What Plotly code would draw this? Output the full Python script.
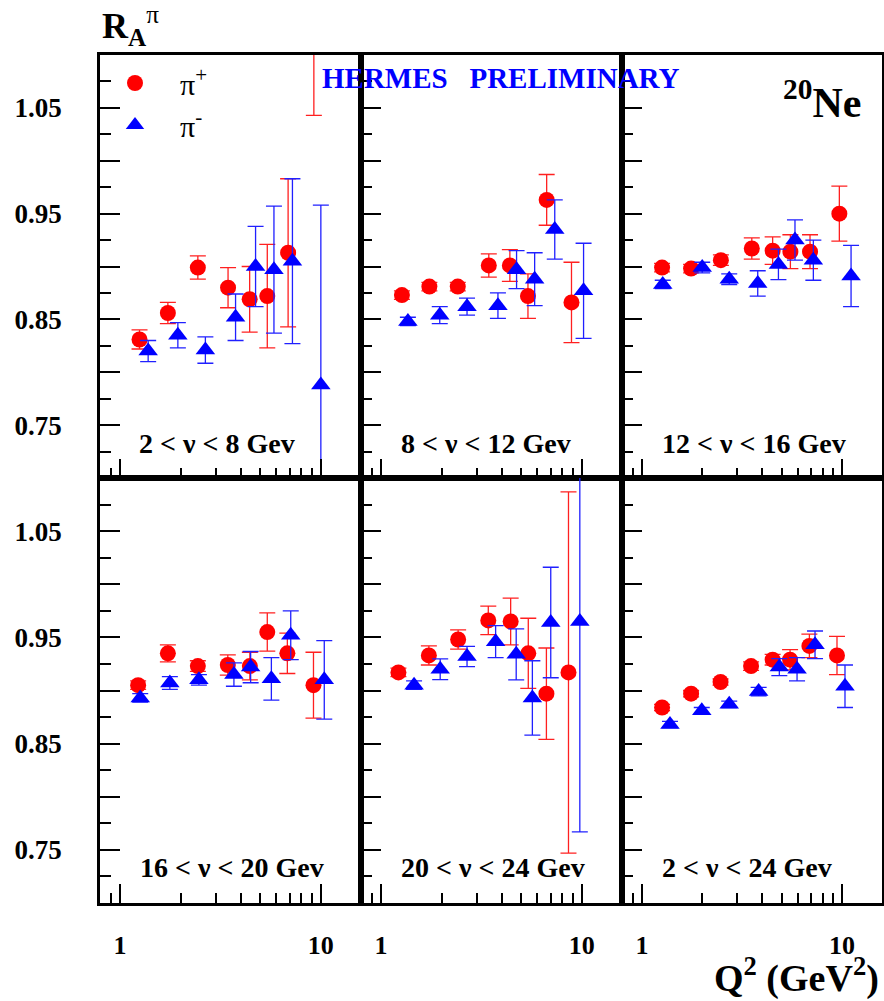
import plotly.graph_objects as go

# ---------------- data (one sub-list per panel) ----------------
PANEL_LABELS = ["2 < ν < 8 Gev", "8 < ν < 12 Gev", "12 < ν < 16 Gev",
                "16 < ν < 20 Gev", "20 < ν < 24 Gev", "2 < ν < 24 Gev"]

PIP_Q2 = [
    [1.25, 1.73, 2.44, 3.45, 4.42, 5.41, 6.87, 9.23],
    [1.27, 1.74, 2.41, 3.44, 4.38, 5.39, 6.68, 8.88],
    [1.26, 1.76, 2.48, 3.54, 4.50, 5.52, 6.92, 9.70],
    [1.23, 1.73, 2.44, 3.44, 4.43, 5.41, 6.81, 9.19],
    [1.22, 1.73, 2.42, 3.42, 4.42, 5.41, 6.66, 8.58],
    [1.26, 1.76, 2.47, 3.51, 4.50, 5.50, 6.87, 9.44],
]
PIP_R = [
    [0.831, 0.856, 0.899, 0.880, 0.869, 0.872, 0.913, 1.150],
    [0.873, 0.881, 0.881, 0.901, 0.901, 0.872, 0.963, 0.866],
    [0.899, 0.898, 0.906, 0.917, 0.915, 0.914, 0.914, 0.950],
    [0.905, 0.935, 0.923, 0.924, 0.923, 0.955, 0.935, 0.905],
    [0.917, 0.933, 0.948, 0.966, 0.965, 0.935, 0.897, 0.917],
    [0.884, 0.897, 0.908, 0.923, 0.929, 0.929, 0.942, 0.933],
]
PIP_ERR = [
    [0.009, 0.010, 0.011, 0.019, 0.031, 0.049, 0.070, 0.107],
    [0.004, 0.004, 0.004, 0.011, 0.015, 0.021, 0.024, 0.038],
    [0.004, 0.004, 0.005, 0.010, 0.013, 0.016, 0.016, 0.026],
    [0.004, 0.008, 0.005, 0.0095, 0.013, 0.018, 0.019, 0.031],
    [0.004, 0.009, 0.009, 0.0135, 0.022, 0.033, 0.043, 0.170],
    [0.003, 0.003, 0.003, 0.004, 0.005, 0.0095, 0.011, 0.018],
]

PIM_Q2 = [
    [1.38, 1.94, 2.66, 3.76, 4.73, 5.84, 7.22, 10.0],
    [1.36, 1.96, 2.68, 3.82, 4.73, 5.82, 7.33, 10.2],
    [1.27, 2.00, 2.73, 3.79, 4.81, 5.82, 7.19, 11.1],
    [1.26, 1.77, 2.47, 3.69, 4.47, 5.67, 7.08, 10.4],
    [1.46, 1.97, 2.68, 3.72, 4.71, 5.67, 7.00, 9.77],
    [1.38, 1.99, 2.73, 3.83, 4.86, 5.96, 7.33, 10.35],
]
PIM_R = [
    [0.820, 0.835, 0.821, 0.852, 0.900, 0.897, 0.905, 0.788],
    [0.848, 0.854, 0.862, 0.863, 0.897, 0.888, 0.935, 0.877],
    [0.883, 0.899, 0.888, 0.884, 0.902, 0.925, 0.906, 0.891],
    [0.893, 0.907, 0.910, 0.915, 0.922, 0.911, 0.952, 0.910],
    [0.905, 0.920, 0.932, 0.946, 0.934, 0.893, 0.964, 0.965],
    [0.868, 0.881, 0.887, 0.899, 0.922, 0.920, 0.943, 0.904],
]
PIM_ERR = [
    [0.010, 0.012, 0.0125, 0.022, 0.038, 0.060, 0.078, 0.170],
    [0.004, 0.008, 0.008, 0.012, 0.018, 0.025, 0.028, 0.045],
    [0.004, 0.005, 0.005, 0.012, 0.0145, 0.019, 0.019, 0.029],
    [0.004, 0.006, 0.005, 0.011, 0.0147, 0.020, 0.023, 0.037],
    [0.004, 0.0097, 0.0095, 0.015, 0.024, 0.035, 0.052, 0.198],
    [0.003, 0.003, 0.003, 0.004, 0.008, 0.011, 0.013, 0.020],
]

Y_MAJOR = [0.75, 0.80, 0.85, 0.90, 0.95, 1.00, 1.05]
Y_MAJOR_TEXT = ["0.75", " ", "0.85", " ", "0.95", " ", "1.05"]
Y_MINOR = [0.725, 0.775, 0.825, 0.875, 0.925, 0.975, 1.025, 1.075]
X_MAJOR = [1, 10]
X_MAJOR_TEXT = ["1", "10"]
X_MINOR = [0.9, 2, 3, 4, 5, 6, 7, 8, 9]

# ---------------- layout geometry ----------------
W, H = 884, 1001
FONT = "Liberation Serif"
COLS = [(100, 361), (361, 622), (622, 882)]
ROWS = [(55, 478), (478, 903)]

fig = go.Figure()
layout = dict(
    width=W, height=H, margin=dict(l=0, r=0, t=0, b=0),
    paper_bgcolor="white", plot_bgcolor="white",
    showlegend=True,
    legend=dict(x=90 / W, y=1 - 57 / H, xanchor="left", yanchor="top",
                bgcolor="rgba(0,0,0,0)", borderwidth=0, itemwidth=80,
                font=dict(family=FONT, size=30, color="black"),
                tracegroupgap=0),
)

for i in range(6):
    r, c = divmod(i, 3)
    sfx = "" if i == 0 else str(i + 1)
    xa, ya = "x" + sfx, "y" + sfx
    x0, x1 = COLS[c]
    top, bot = ROWS[r]
    layout["xaxis" + sfx] = dict(
        domain=[x0 / W, x1 / W], anchor=ya, type="log", range=[-0.1, 1.2],
        showline=True, linecolor="black", linewidth=2.5, mirror=True,
        showgrid=False, zeroline=False,
        ticks="inside", ticklen=19, tickwidth=2, tickcolor="black",
        tickmode="array", tickvals=X_MAJOR, ticktext=X_MAJOR_TEXT,
        showticklabels=(r == 1), ticklabelstandoff=17,
        tickfont=dict(family=FONT, size=26, color="black", weight="bold"),
        minor=dict(tickvals=X_MINOR, ticks="inside", ticklen=10,
                   tickwidth=2, tickcolor="black", showgrid=False),
    )
    layout["yaxis" + sfx] = dict(
        domain=[1 - bot / H, 1 - top / H], anchor=xa, range=[0.70, 1.10],
        showline=True, linecolor="black", linewidth=2.5, mirror=True,
        showgrid=False, zeroline=False,
        ticks="inside", ticklen=20, tickwidth=2, tickcolor="black",
        tickmode="array", tickvals=Y_MAJOR, ticktext=Y_MAJOR_TEXT,
        showticklabels=(c == 0), ticklabelstandoff=30,
        tickfont=dict(family=FONT, size=27, color="black", weight="bold"),
        minor=dict(tickvals=Y_MINOR, ticks="inside", ticklen=11,
                   tickwidth=2, tickcolor="black", showgrid=False),
    )

    fig.add_trace(go.Scatter(
        x=PIP_Q2[i], y=PIP_R[i], xaxis=xa, yaxis=ya, mode="markers",
        name="π<sup>+</sup>", showlegend=(i == 0),
        marker=dict(symbol="circle", size=16, color="#ff0000"),
        error_y=dict(type="data", array=PIP_ERR[i], color="#ff2020",
                     thickness=1.3, width=8),
    ))
    fig.add_trace(go.Scatter(
        x=PIM_Q2[i], y=PIM_R[i], xaxis=xa, yaxis=ya, mode="markers",
        name="π<sup>-</sup>", showlegend=(i == 0),
        marker=dict(symbol="triangle-up", size=17, color="#0000ff"),
        error_y=dict(type="data", array=PIM_ERR[i], color="#2020ff",
                     thickness=1.3, width=8),
    ))

# ---------------- text ----------------
LABEL_POS = [(217, 443), (486, 443), (754, 443), (232, 867), (493, 867), (747, 867)]
ann = []
for (px, py), txt in zip(LABEL_POS, PANEL_LABELS):
    ann.append(dict(x=px / W, y=1 - py / H, xref="paper", yref="paper",
                    text="<b>%s</b>" % txt, showarrow=False,
                    xanchor="center", yanchor="middle",
                    font=dict(family=FONT, size=28, color="black")))

ann.append(dict(x=100 / W, y=1 - 26 / H, xref="paper", yref="paper",
                text="<b>R<sub>A</sub></b><sup>π</sup>", showarrow=False,
                xanchor="left", yanchor="middle",
                font=dict(family=FONT, size=36, color="black")))
ann.append(dict(x=501 / W, y=1 - 78 / H, xref="paper", yref="paper",
                text="<b>HERMES\u00a0\u00a0\u00a0PRELIMINARY</b>", showarrow=False,
                xanchor="center", yanchor="middle",
                font=dict(family=FONT, size=29, color="#0000ff")))
ann.append(dict(x=863 / W, y=1 - 100 / H, xref="paper", yref="paper",
                text="<b><sup>20</sup>Ne</b>", showarrow=False,
                xanchor="right", yanchor="middle",
                font=dict(family=FONT, size=42, color="black")))
ann.append(dict(x=881 / W, y=1 - 975 / H, xref="paper", yref="paper",
                text="<b>Q<sup>2</sup> (GeV<sup>2</sup>)</b>", showarrow=False,
                xanchor="right", yanchor="middle",
                font=dict(family=FONT, size=38, color="black")))

layout["annotations"] = ann
fig.update_layout(**layout)
fig.write_html("out.html")
